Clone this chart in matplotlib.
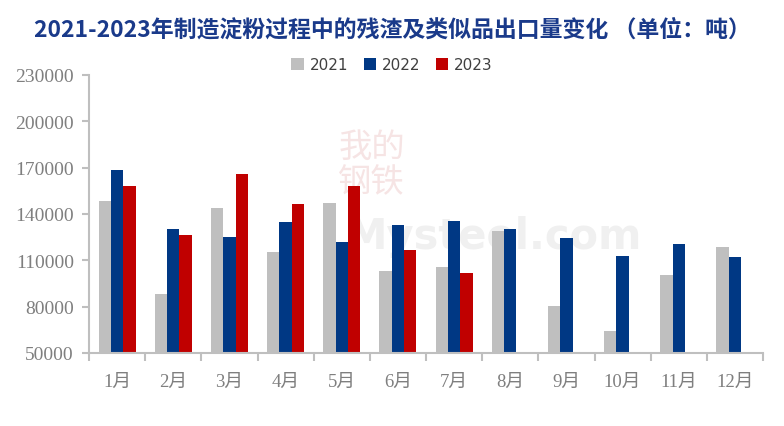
import numpy as np
import matplotlib.pyplot as plt

GRAY = "#BFBFBF"
BLUE = "#003884"
RED = "#C00000"
AXIS_COLOR = "#BFBFBF"
LABEL_COLOR = "#7F7F7F"
TITLE_COLOR = "#1A3A8A"

months = ["1月", "2月", "3月", "4月", "5月", "6月", "7月", "8月", "9月", "10月", "11月", "12月"]
y2021 = [148400, 88200, 143900, 115400, 147100, 103100, 105700, 129000, 80400, 64200, 100500, 118600]
y2022 = [168500, 130300, 125100, 134800, 121900, 132900, 135500, 130300, 124500, 112800, 120600, 112200]
y2023 = [158100, 126400, 165900, 146500, 158100, 116700, 101800]
yticks = [50000, 80000, 110000, 140000, 170000, 200000, 230000]

plt.rcParams["font.family"] = ["Liberation Serif", "Noto Sans CJK SC"]

fig = plt.figure(figsize=(7.84, 4.27), dpi=100)
ax = fig.add_axes([89 / 784, 1 - 354 / 427, (763 - 89) / 784, (354 - 76) / 427])

x = np.arange(len(months))
w = 0.22
ax.bar(x - w, y2021, w, color=GRAY, label="2021", zorder=2)
ax.bar(x, y2022, w, color=BLUE, label="2022", zorder=2)
ax.bar(np.arange(len(y2023)) + w, y2023, w, color=RED, label="2023", zorder=2)

ax.set_xlim(-0.5, len(months) - 0.5)
ax.set_ylim(50000, 230000)
ax.set_yticks(yticks)
ax.set_yticklabels([str(v) for v in yticks], fontsize=14, color=LABEL_COLOR, family="Liberation Serif")

# category boundary ticks on x, labels at centers
ax.set_xticks(np.arange(len(months) + 1) - 0.5)
ax.set_xticklabels([])
ax.set_xticks(x, minor=True)
ax.set_xticklabels(months, minor=True, fontsize=13.5, color=LABEL_COLOR,
                   family=["Liberation Serif", "Noto Sans CJK SC"])
ax.tick_params(axis="x", which="major", length=6, width=1.5, color=AXIS_COLOR, direction="out")
ax.tick_params(axis="x", which="minor", length=0, pad=14)
ax.tick_params(axis="y", length=5, width=1.5, color=AXIS_COLOR, pad=6)

for s in ["top", "right"]:
    ax.spines[s].set_visible(False)
for s in ["left", "bottom"]:
    ax.spines[s].set_color(AXIS_COLOR)
    ax.spines[s].set_linewidth(1.5)

# faint watermark behind the bars
ax.text(0.38, 0.42, "Mysteel.com", transform=ax.transAxes, fontsize=30, color="#F0F0F0",
        fontweight="bold", ha="left", va="center", family="DejaVu Sans", zorder=0.5)
ax.text(0.37, 0.68, "我的\n钢铁", transform=ax.transAxes, fontsize=24, color="#F6E4E4",
        ha="left", va="center", family="Noto Sans CJK SC", zorder=0.5, linespacing=1.0)

leg = fig.legend(loc="center", bbox_to_anchor=(0.5, 1 - 66 / 427), ncol=3, frameon=False,
                 handlelength=0.8, handleheight=0.8, handletextpad=0.4,
                 columnspacing=1.0, prop={"family": "DejaVu Sans", "size": 11})
for t in leg.get_texts():
    t.set_color("#404040")

fig.text(0.5, 1 - 30 / 427, "2021-2023年制造淀粉过程中的残渣及类似品出口量变化 （单位：吨）",
         fontsize=16.5, fontweight="bold", color=TITLE_COLOR, ha="center", va="center",
         family=["Noto Sans CJK SC", "DejaVu Sans"])

fig.savefig("out.png", dpi=100)
